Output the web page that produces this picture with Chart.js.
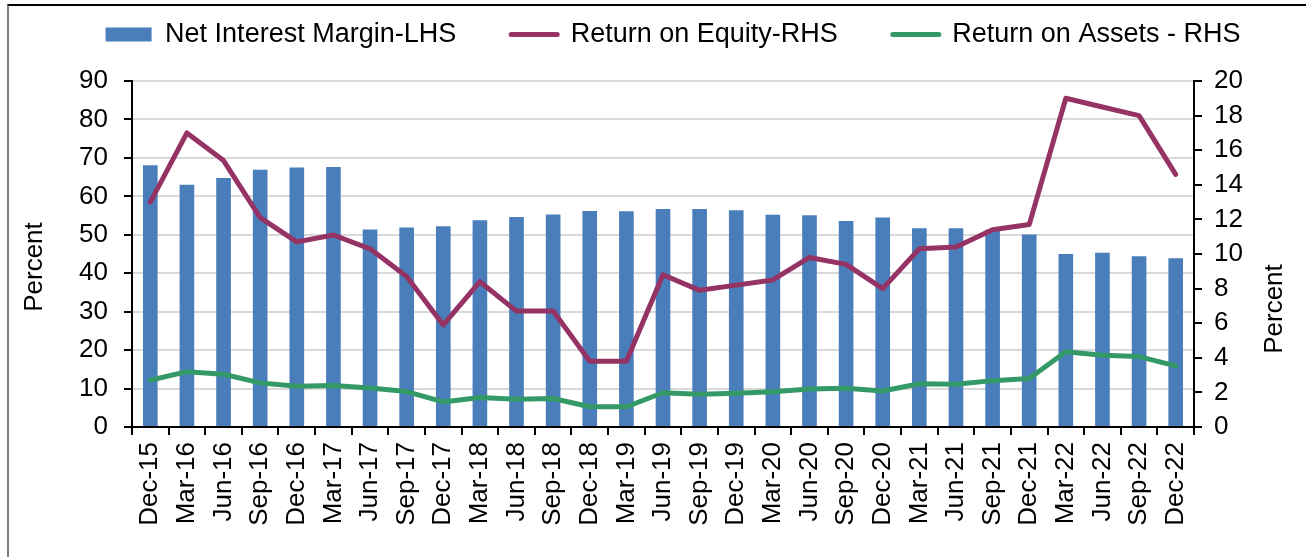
<!DOCTYPE html>
<html>
<head>
<meta charset="utf-8">
<script src="https://cdn.jsdelivr.net/npm/chart.js@4.4.1/dist/chart.umd.min.js"></script>
<style>
html, body { margin: 0; padding: 0; background: #fff; }
#wrap { position: relative; width: 1306px; height: 557px; overflow: hidden; }
#frame { position: absolute; left: 7px; top: 4px; width: 1330px; height: 600px;
         border-top: 2px solid #000; border-left: 2px solid #808080; }
#chart { position: absolute; left: 0; top: 0; }
</style>
</head>
<body>
<div id="wrap">
  <div id="frame"></div>
  <canvas id="chart" width="1306" height="557"></canvas>
</div>
<script>
// quarters on the x axis
const quarters = ['Dec-15', 'Mar-16', 'Jun-16', 'Sep-16', 'Dec-16', 'Mar-17', 'Jun-17', 'Sep-17',
  'Dec-17', 'Mar-18', 'Jun-18', 'Sep-18', 'Dec-18', 'Mar-19', 'Jun-19', 'Sep-19', 'Dec-19',
  'Mar-20', 'Jun-20', 'Sep-20', 'Dec-20', 'Mar-21', 'Jun-21', 'Sep-21', 'Dec-21', 'Mar-22',
  'Jun-22', 'Sep-22', 'Dec-22'];

// Net interest margin (LHS, percent)
const nimValues = [68.1, 63.0, 64.8, 66.9, 67.5, 67.6, 51.4, 51.9, 52.2, 53.8, 54.6, 55.3,
  56.2, 56.1, 56.7, 56.7, 56.4, 55.2, 55.1, 53.6, 54.5, 51.7, 51.7, 51.3, 50.1, 45.0, 45.3, 44.4, 43.9];

// Return on equity (RHS, percent)
const roeValues = [13.0, 17.0, 15.4, 12.1, 10.7, 11.1, 10.3, 8.7, 5.9, 8.4, 6.7, 6.7,
  3.8, 3.8, 8.8, 7.9, 8.2, 8.5, 9.8, 9.4, 8.0, 10.3, 10.4, 11.4, 11.7, 19.0, 18.5, 18.0, 14.6];

// Return on assets (RHS, percent)
const roaValues = [2.7, 3.2, 3.05, 2.55, 2.35, 2.4, 2.25, 2.05, 1.45, 1.7, 1.6, 1.65,
  1.17, 1.17, 1.98, 1.9, 1.95, 2.04, 2.2, 2.24, 2.08, 2.5, 2.47, 2.68, 2.8, 4.35, 4.15, 4.07, 3.53];

const seriesLabels = ['Net Interest Margin-LHS', 'Return on Equity-RHS', 'Return on Assets - RHS'];
const lhsTitle = 'Percent';
const rhsTitle = 'Percent';

const FONT = '"Liberation Sans", Arial, sans-serif';
Chart.defaults.font.family = FONT;
Chart.defaults.font.size = 26;
Chart.defaults.color = '#000';

// make the legend band a fixed height so the plot area starts where it should
const legendBand = {
  id: 'legendBand',
  beforeUpdate(chart) {
    const lg = chart.legend;
    if (lg && !lg._banded) {
      const fitFn = lg.fit;
      lg.fit = function () {
        fitFn.call(this);
        this.height = 115;
      };
      lg._banded = true;
    }
  }
};

// axis titles, both reading bottom to top like the original
const axisTitles = {
  id: 'axisTitles',
  afterDraw(chart) {
    const ctx = chart.ctx;
    ctx.save();
    ctx.font = '26px ' + FONT;
    ctx.fillStyle = '#000';
    ctx.textAlign = 'center';
    ctx.textBaseline = 'middle';
    ctx.translate(35, 267);
    ctx.rotate(-Math.PI / 2);
    ctx.fillText(lhsTitle, 0, 0);
    ctx.restore();

    ctx.save();
    ctx.font = '26px ' + FONT;
    ctx.fillStyle = '#000';
    ctx.textAlign = 'center';
    ctx.textBaseline = 'middle';
    ctx.translate(1275, 309);
    ctx.rotate(-Math.PI / 2);
    ctx.fillText(rhsTitle, 0, 0);
    ctx.restore();
  }
};

new Chart(document.getElementById('chart'), {
  data: {
    labels: quarters,
    datasets: [
      {
        type: 'bar',
        label: seriesLabels[0],
        data: nimValues,
        yAxisID: 'y',
        backgroundColor: '#4a7ebb',
        barPercentage: 0.4,
        categoryPercentage: 1,
        order: 3
      },
      {
        type: 'line',
        label: seriesLabels[1],
        data: roeValues,
        yAxisID: 'y1',
        borderColor: '#953464',
        borderWidth: 5,
        borderJoinStyle: 'round',
        borderCapStyle: 'round',
        pointRadius: 0,
        tension: 0,
        order: 2
      },
      {
        type: 'line',
        label: seriesLabels[2],
        data: roaValues,
        yAxisID: 'y1',
        borderColor: '#339966',
        borderWidth: 5,
        borderJoinStyle: 'round',
        borderCapStyle: 'round',
        pointRadius: 0,
        tension: 0,
        order: 1
      }
    ]
  },
  options: {
    responsive: false,
    animation: false,
    layout: { padding: { top: -34, left: 40, right: 0, bottom: 0 } },
    plugins: {
      tooltip: { enabled: false },
      legend: {
        position: 'top',
        labels: {
          usePointStyle: true,
          pointStyleWidth: 46,
          boxHeight: 14,
          padding: 55,
          font: { size: 27 },
          color: '#000',
          generateLabels(chart) {
            return chart.data.datasets.map((ds, i) => {
              const isBar = ds.type === 'bar';
              const c = isBar ? ds.backgroundColor : ds.borderColor;
              return {
                text: ds.label,
                fillStyle: c,
                strokeStyle: c,
                lineWidth: isBar ? 0 : 5,
                lineCap: 'round',
                pointStyle: isBar ? 'rect' : 'line',
                hidden: false,
                datasetIndex: i,
                fontColor: '#000'
              };
            });
          }
        }
      }
    },
    scales: {
      x: {
        offset: true,
        grid: { display: true, drawOnChartArea: false, drawTicks: true, tickLength: 8,
                color: '#000', lineWidth: 2, offset: true },
        border: { display: true, color: '#000', width: 2 },
        ticks: { autoSkip: false, minRotation: 90, maxRotation: 90, padding: 7,
                 font: { size: 26 }, color: '#000' },
        afterFit(scale) { scale.height = 130; }
      },
      y: {
        position: 'left',
        min: 0,
        max: 90,
        ticks: { stepSize: 10, padding: 16, font: { size: 26 }, color: '#000' },
        grid: { color: '#d9d9d9', lineWidth: 2, tickColor: '#000', tickLength: 8 },
        border: { display: true, color: '#000', width: 2 },
        afterFit(scale) { scale.width = 92; }
      },
      y1: {
        position: 'right',
        min: 0,
        max: 20,
        ticks: { stepSize: 2, padding: 12, font: { size: 26 }, color: '#000' },
        grid: { drawOnChartArea: false, color: '#000', lineWidth: 2, tickLength: 8 },
        border: { display: true, color: '#000', width: 2 },
        afterFit(scale) { scale.width = 112; }
      }
    }
  },
  plugins: [legendBand, axisTitles]
});
</script>
</body>
</html>
